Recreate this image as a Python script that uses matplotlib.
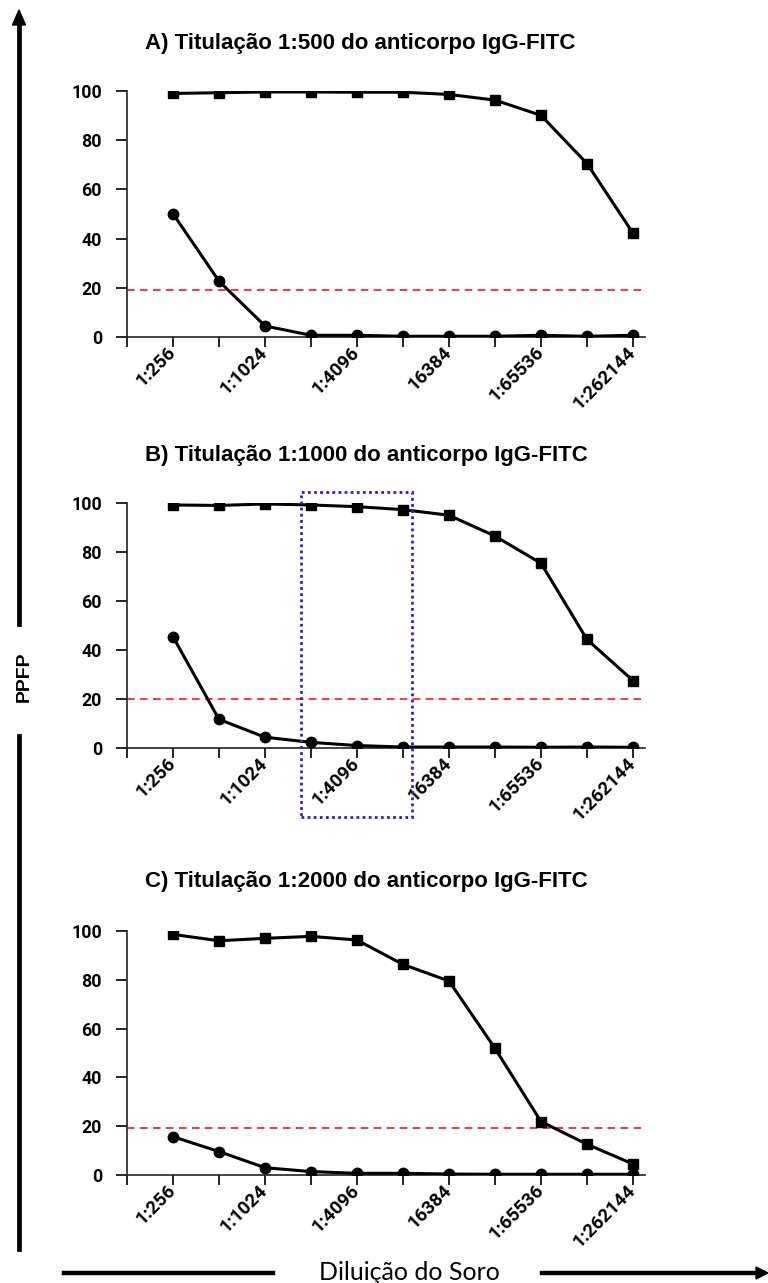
import numpy as np
import matplotlib.pyplot as plt
from matplotlib.lines import Line2D
from matplotlib.patches import Polygon, Rectangle
from matplotlib.transforms import ScaledTranslation

plt.rcParams['font.family'] = ['Roboto', 'DejaVu Sans']

# Diluições do soro (eixo x) - rótulo só nas posições ímpares
diluicoes = ['1:256', '1:512', '1:1024', '1:2048', '1:4096', '1:8192',
             '16384', '1:32768', '1:65536', '1:131072', '1:262144']
rotulos_x = [d if i % 2 == 0 else '' for i, d in enumerate(diluicoes)]

titulos = ['A) Titulação 1:500 do anticorpo IgG-FITC',
           'B) Titulação 1:1000 do anticorpo IgG-FITC',
           'C) Titulação 1:2000 do anticorpo IgG-FITC']

# PPFP - soro positivo (quadrados) e soro negativo (círculos)
pos_a = [99.0, 99.3, 99.6, 99.6, 99.5, 99.5, 98.6, 96.3, 90.1, 70.5, 42.2]
neg_a = [50.1, 22.7, 4.5, 0.7, 0.7, 0.3, 0.3, 0.3, 0.7, 0.3, 0.7]
pos_b = [99.2, 99.0, 99.6, 99.2, 98.5, 97.3, 95.0, 86.5, 75.4, 44.3, 27.5]
neg_b = [45.4, 11.7, 4.4, 2.3, 1.0, 0.4, 0.4, 0.4, 0.3, 0.4, 0.3]
pos_c = [98.6, 96.0, 97.0, 97.8, 96.3, 86.3, 79.5, 51.9, 21.9, 12.6, 4.5]
neg_c = [15.7, 9.6, 3.0, 1.4, 0.7, 0.7, 0.4, 0.3, 0.3, 0.3, 0.3]

# limite de corte (linha vermelha)
cortes = [19.3, 20.0, 19.4]

W, H = 768, 1283
fig = plt.figure(figsize=(W / 100, H / 100), dpi=100)


def caixa(l, t, r, b):
    return [l / W, 1 - b / H, (r - l) / W, (b - t) / H]


# posição de cada painel em pixels: (esq, topo, dir, base), y do título
paineis = [((127, 91, 644.5, 337), 43),
           ((127, 503, 644.5, 748), 456),
           ((127, 931, 644.5, 1175), 881)]
series = [(pos_a, neg_a), (pos_b, neg_b), (pos_c, neg_c)]

x = np.arange(1, len(diluicoes) + 1)
eixos = []
for k, ((l, t, r, b), ty) in enumerate(paineis):
    ax = fig.add_axes(caixa(l, t, r, b))
    pos, neg = series[k]
    ax.plot([0, 11.25], [cortes[k]] * 2, color='red', ls=(0, (5, 3.5)),
            lw=1.1, zorder=1)
    ax.plot(x, pos, color='black', lw=2.2, marker='s', ms=7.5, zorder=3)
    ax.plot(x, neg, color='black', lw=2.2, marker='o', ms=7.5, zorder=3)
    ax.set_xlim(0, 11.25)
    ax.set_ylim(0, 100)
    ax.set_yticks([0, 20, 40, 60, 80, 100])
    ax.set_xticks(np.arange(0, 12))
    ax.set_xticklabels([''] + rotulos_x, rotation=45, ha='right',
                       va='center', rotation_mode='anchor',
                       fontsize=13.5, fontweight='bold')
    for lab in ax.get_xticklabels():
        lab.set_transform(lab.get_transform() +
                          ScaledTranslation(19 / 100, -15 / 100, fig.dpi_scale_trans))
    ax.tick_params(axis='y', labelsize=12.8, length=8, width=1.2, pad=10)
    ax.tick_params(axis='x', length=7, width=1.2, pad=2)
    for lab in ax.get_yticklabels():
        lab.set_fontweight('bold')
    for s in ['top', 'right']:
        ax.spines[s].set_visible(False)
    for s in ['left', 'bottom']:
        ax.spines[s].set_linewidth(1.2)
        ax.spines[s].set_color('#222222')
    fig.text(145 / W, 1 - ty / H, titulos[k], ha='left', va='center',
             fontsize=16, fontweight='bold',
             family=['Liberation Sans', 'DejaVu Sans'])
    eixos.append(ax)

# destaque em azul no painel B
eixos[1].add_patch(Rectangle((3.78, -28), 6.2 - 3.78, 104.6 + 28, fill=False,
                             edgecolor='#2a1fd6', lw=2.0, ls=(0, (1, 1.2)),
                             clip_on=False, zorder=4))

# eixo vertical (PPFP) com seta
def fx(p):
    return p / W


def fy(p):
    return 1 - p / H


fig.add_artist(Line2D([fx(19)] * 2, [fy(22), fy(624)], color='black', lw=3.4))
fig.add_artist(Line2D([fx(19)] * 2, [fy(736), fy(1249)], color='black', lw=3.4))
fig.add_artist(Polygon([[fx(12.5), fy(25)], [fx(25.5), fy(25)], [fx(19), fy(10)]],
                       closed=True, color='black'))
fig.text(fx(24), fy(677), 'PPFP', rotation=90, ha='center', va='center',
         fontsize=14, fontweight='bold', family=['Liberation Sans', 'DejaVu Sans'])

# eixo horizontal (diluição) com seta
fig.add_artist(Line2D([fx(64), fx(273)], [fy(1273)] * 2, color='black', lw=3.2))
fig.add_artist(Line2D([fx(542), fx(760)], [fy(1273)] * 2, color='black', lw=3.2))
fig.add_artist(Polygon([[fx(756), fy(1267)], [fx(756), fy(1279)], [fx(768), fy(1273)]],
                       closed=True, color='black'))
fig.text(fx(409), fy(1273), 'Diluição do Soro', ha='center', va='center',
         fontsize=18, family=['Lato', 'DejaVu Sans'])

fig.savefig('out.png', dpi=100)
